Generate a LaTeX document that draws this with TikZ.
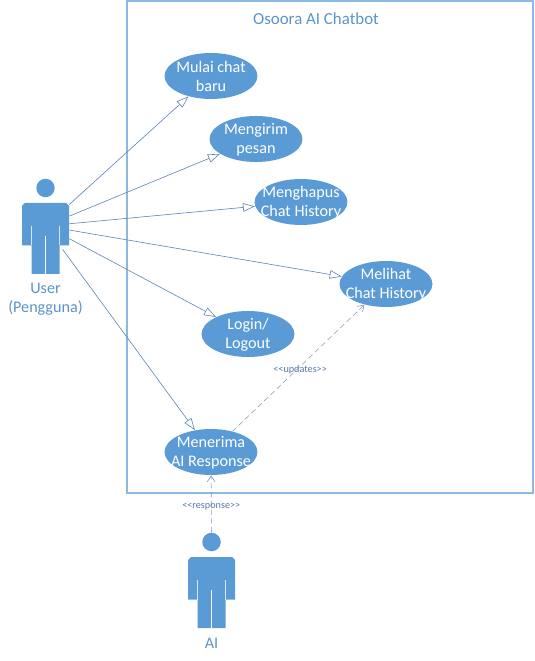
\documentclass[tikz,border=0pt]{standalone}
\usepackage{fontspec}
\setmainfont{Carlito}
\usetikzlibrary{arrows.meta, shapes.geometric}
\definecolor{ucblue}{HTML}{5B9BD5}
\definecolor{edgeblue}{HTML}{5F86B3}
\definecolor{textblue}{HTML}{5B93CC}
\tikzset{
  usecase/.style={ellipse, fill=ucblue, minimum width=1.86cm, minimum height=0.92cm, inner sep=0pt},
  ucname/.style={text=white, align=center, inner sep=0pt, yshift=-0.015cm, font=\fontsize{9.2}{11}\selectfont},
  actorlabel/.style={text=textblue, align=center, inner sep=0pt, font=\fontsize{9.2}{11}\selectfont},
  actorbody/.style={minimum width=0.94cm, minimum height=0.92cm, inner sep=0pt},
  actorhead/.style={circle, fill=ucblue, minimum size=0.37cm, inner sep=0pt},
  assoc/.style={edgeblue, line width=0.35pt, -{Triangle[open, length=2.4mm, width=1.7mm, fill=white]}},
  depend/.style={edgeblue!80, line width=0.35pt, dash pattern=on 3pt off 2pt, -{Straight Barb[length=1.2mm, width=1.6mm]}},
  stereo/.style={text=edgeblue!90!black, inner sep=0pt, font=\fontsize{5.8}{6}\selectfont}
}
% body of an actor, #1 = x of the middle, #2 = y of the shoulders
\newcommand{\actorshape}[2]{
  \fill [ucblue] (#1-23.5,#2+3) -- (#1-20.5,#2) -- (#1+20.5,#2) -- (#1+23.5,#2+3) -- (#1+23.5,#2+42.5)
    -- (#1+14,#2+42.5) -- (#1+14,#2+71) -- (#1-14,#2+71) -- (#1-14,#2+42.5) -- (#1-23.5,#2+42.5) -- cycle;
  \draw [white!75!ucblue, line width=0.5pt] (#1-14,#2+23) -- (#1-14,#2+42.5);
  \draw [white!75!ucblue, line width=0.5pt] (#1+14,#2+23) -- (#1+14,#2+42.5);
  \draw [white, line width=0.5pt] (#1,#2+33) -- (#1,#2+71);
}
\begin{document}
\begin{tikzpicture}[x=0.02cm, y=-0.02cm]
\useasboundingbox (0,0) rectangle (534,661);
% system boundary
\draw [ucblue!70, line width=0.7pt] (127,1) rectangle (533,493);
\node [text=textblue, inner sep=0pt, font=\fontsize{9.6}{12}\selectfont] (title) at (316,19) {Osoora AI Chatbot};
% use cases
\node [usecase, label={[ucname]center:Mulai chat\\baru}] (mulai) at (211,76) {};
\node [usecase, label={[ucname]center:Mengirim\\pesan}] (kirim) at (256,139) {};
\node [usecase, label={[ucname]center:Menghapus\\Chat History}] (hapus) at (301,202) {};
\node [usecase, label={[ucname]center:Melihat\\Chat History}] (lihat) at (386,284) {};
\node [usecase, label={[ucname]center:Login/\\Logout}] (login) at (248,334) {};
\node [usecase, label={[ucname]center:Menerima\\AI Response}] (terima) at (211,452) {};
% actors
\actorshape{45.5}{203}
\actorshape{211.5}{557}
\node [actorhead] (userhead) at (45.5,188) {};
\node [actorhead] (aihead) at (211.5,542) {};
\node [actorbody] (user) at (45.5,226) {};
\node [actorlabel] (userlabel) at (45.5,299.5) {User\\(Pengguna)};
\node [actorlabel] (ailabel) at (211.5,643) {AI};
% associations
\draw [assoc] (user) -- (mulai);
\draw [assoc] (user) -- (kirim);
\draw [assoc] (user) -- (hapus);
\draw [assoc] (user) -- (lihat);
\draw [assoc] (user) -- (login);
\draw [assoc] (user) -- (terima);
% dependencies
\draw [depend] (terima) -- node [stereo, pos=0.52, xshift=-0.02cm, yshift=-0.08cm] (updates) {{<}{<}updates{>}{>}} (lihat);
\draw [depend] (aihead) -- node [stereo, pos=0.5, yshift=-0.06cm] (response) {{<}{<}response{>}{>}} (terima);
\end{tikzpicture}
\end{document}
